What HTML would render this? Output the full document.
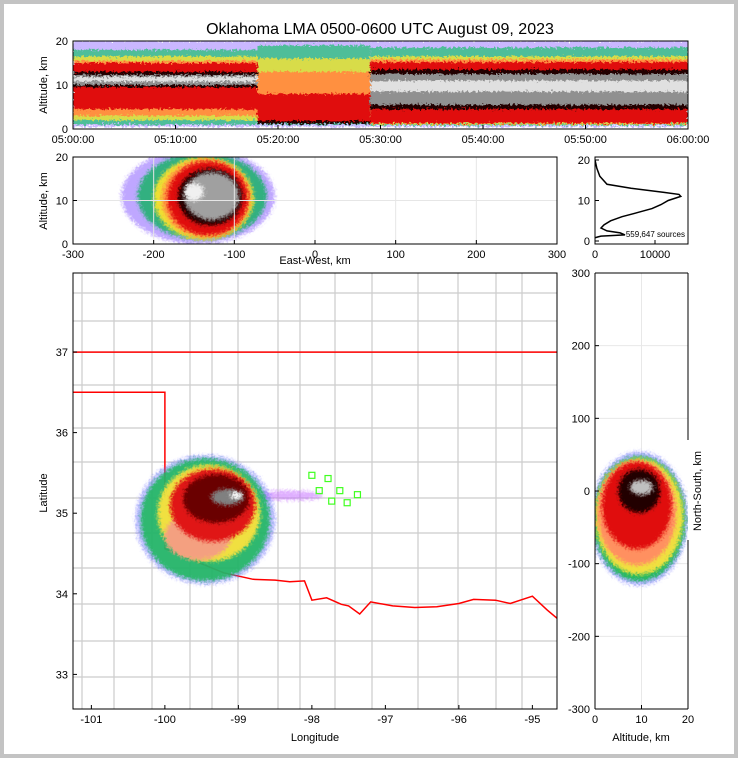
<!DOCTYPE html>
<html><head><meta charset="utf-8"><style>
html,body{margin:0;padding:0;background:#c3c3c3}
svg{display:block}
text{font-family:"Liberation Sans","DejaVu Sans",sans-serif;fill:#000}
</style></head><body>
<svg id="fig" width="738" height="758" xmlns="http://www.w3.org/2000/svg">
<rect x="4" y="4" width="730" height="750" fill="#fff"/>
<text x="380" y="34" font-size="16" text-anchor="middle">Oklahoma LMA 0500-0600 UTC August 09, 2023</text>
<defs>
<filter id="soft" x="-20%" y="-20%" width="140%" height="140%"><feGaussianBlur stdDeviation="1.5"/></filter>
<filter id="speck" x="-5%" y="-5%" width="110%" height="110%">
<feTurbulence type="fractalNoise" baseFrequency="0.45" numOctaves="2" seed="3" result="n"/>
<feDisplacementMap in="SourceGraphic" in2="n" scale="7" xChannelSelector="R" yChannelSelector="G"/>
</filter>
<clipPath id="cTop"><rect x="73" y="41" width="615" height="88"/></clipPath>
<clipPath id="cSide"><rect x="73" y="157" width="484" height="87"/></clipPath>
<clipPath id="cMap"><rect x="73" y="273" width="484" height="436"/></clipPath>
<clipPath id="cRight"><rect x="595" y="273" width="93" height="436"/></clipPath>
<clipPath id="cHist"><rect x="595" y="157" width="93" height="87"/></clipPath>
</defs>
<g clip-path="url(#cTop)"><g id="g-top" filter="url(#speck)"></g></g>
<g clip-path="url(#cSide)"><g id="g-side" filter="url(#speck)"></g></g>
<g id="g-hist" clip-path="url(#cHist)"></g>
<g clip-path="url(#cMap)"><g id="g-map"></g><g id="g-blob" filter="url(#speck)"></g><g id="g-sta"></g></g>
<g clip-path="url(#cRight)"><g id="g-rgrid"></g><g id="g-right" filter="url(#speck)"></g></g>
<g id="g-axes"></g>
</svg>
<script>
// ---------- data ----------
const timeTicks = ["05:00:00","05:10:00","05:20:00","05:30:00","05:40:00","05:50:00","06:00:00"];
const altTicks = [0,10,20];
const ewTicks = [-300,-200,-100,0,100,200,300];
const lonTicks = [-101,-100,-99,-98,-97,-96,-95];
const latTicks = [33,34,35,36,37];
const nsTicks = [300,200,100,0,-100,-200,-300];
const rightAltTicks = [0,10,20];
const histTicks = [0,10000];
// time-height segments (minutes) and band layers
const segStart = [0, 18, 29];
const segEnd = [18, 29, 60];
const bandColors = ["#8a60ff","#30c080","#e8e040","#ff9040","#e01010","#200000","#909090","#e0e0e0"];
const bandOpac = [0.45,0.8,0.9,1,1,1,1,1];
const bandLowSeg0 = [0.5, 1.0, 2.0, 3.0, 4.5, 9.5, 10.0, 10.8];
const bandHighSeg0 = [20, 18.0, 16.5, 15.5, 15.0, 13.0, 12.3, 11.8];
const bandLowSeg1 = [0.5, 1.0, 1.5, 2.0, 1.5, 1.2, 13, 13];
const bandHighSeg1 = [20, 19, 16, 13, 8, 1.8, 13, 13];
const bandLowSeg2 = [0.5, 0.8, 1.0, 1.2, 1.3, 4.5, 5.5, 8.5];
const bandHighSeg2 = [20, 18.5, 16.5, 15.8, 15.2, 13.5, 12.5, 11.0];
// side view (east-west km, altitude km) layers
const sideX = [-145, -140, -138, -135, -133, -130, -128, -150];
const sideAlt = [11, 11, 10.5, 10.5, 10.5, 10.8, 11, 12];
const sideRx = [95, 80, 62, 55, 50, 40, 34, 12];
const sideRy = [11, 10, 9.5, 9, 8.5, 6.5, 5.5, 2];
const sideColors = ["#8050ff","#30b080","#f0e030","#ff9040","#e01010","#200000","#a0a0a0","#f0f0f0"];
// altitude histogram
const histAlt = [0.8,1.0,1.2,1.5,2.0,2.5,3.2,4,5,6,7,8,9,10,11,11.5,12,13,14,16,18,20];
const histCount = [0,500,1000,5000,4200,2000,1000,1500,2600,4500,7000,9500,11000,12200,14300,14000,11500,6000,2000,800,300,0];
// map blob layers (lon, lat)
const blobLon = [-98.3,-99.45,-99.45,-99.4,-99.55,-99.35,-99.3,-99.15,-99.03];
const blobLat = [35.22,34.92,34.92,35.0,34.72,35.1,35.18,35.2,35.22];
const blobRx = [0.45,0.95,0.88,0.7,0.45,0.58,0.45,0.22,0.08];
const blobRy = [0.06,0.8,0.76,0.6,0.3,0.45,0.3,0.1,0.04];
const blobColors = ["#c060ff","#6060ff","#20b860","#f0e040","#f4a080","#e01818","#6a0606","#808080","#ffffff"];
const blobOpac = [0.5,0.45,0.9,1,1,1,1,1,1];
// stations
const staLon = [-98.0,-97.78,-97.9,-97.73,-97.52,-97.38,-97.62];
const staLat = [35.47,35.43,35.28,35.15,35.13,35.23,35.28];
// right panel (altitude km, north-south km)
const nsAlt = [9.5,9.5,9.5,9.0,9.0,9.5,10];
const nsY = [-38,-38,-35,-30,-20,0,5];
const nsRx = [10.5,10,9.5,8.5,7.5,4.5,2.5];
const nsRy = [92,86,80,72,60,30,10];
const nsColors = ["#6060ff","#20b860","#f0e040","#ff9060","#e01010","#200000","#c0c0c0"];
// state border
const borderLon = [-101.25,-94.63,-94.63];
const borderLat = [36.998,36.998,36.5];
const panLon = [-101.25,-100.0,-100.0,-99.2,-98.8,-98.5,-98.3,-98.1,-98.0,-97.8,-97.6,-97.5,-97.35,-97.2,-96.9,-96.6,-96.3,-96.0,-95.8,-95.5,-95.3,-95.0,-94.8,-94.63];
const panLat = [36.5,36.5,34.56,34.26,34.18,34.17,34.15,34.16,33.92,33.95,33.87,33.85,33.75,33.9,33.85,33.83,33.84,33.88,33.93,33.92,33.88,33.97,33.8,33.67];

// ---------- scales ----------
const NS="http://www.w3.org/2000/svg";
function mk(tag, attrs, parent){const e=document.createElementNS(NS,tag);for(const k in attrs)e.setAttribute(k,attrs[k]);parent.appendChild(e);return e;}
const tx = m => 73 + m/60*615;
const ty = a => 129 - a/20*88;
const sx = v => 73 + (v+300)/600*484;
const sy = a => 244 - a/20*87;
const hx = c => 595 + c/15500*93;
const hy = a => 241 - a/20*81;
const mx = lon => 73 + (lon+101.25)*73.5;
const my = lat => 352 - (lat-37)*80.6;
const rx = a => 595 + a/20*93;
const ry = n => 491 - n/300*218;

const gTop=document.getElementById('g-top'), gSide=document.getElementById('g-side'), gHist=document.getElementById('g-hist'),
gMap=document.getElementById('g-map'), gBlob=document.getElementById('g-blob'), gSta=document.getElementById('g-sta'),
gRight=document.getElementById('g-right'), gRg=document.getElementById('g-rgrid'), gAx=document.getElementById('g-axes');

// top panel
const lows=[bandLowSeg0,bandLowSeg1,bandLowSeg2], highs=[bandHighSeg0,bandHighSeg1,bandHighSeg2];
for(let s=0;s<segStart.length;s++){
  for(let b=0;b<bandColors.length;b++){
    const lo=lows[s][b], hi=highs[s][b]; if(hi<=lo) continue;
    const r=mk('rect',{x:tx(segStart[s]),y:ty(hi),width:tx(segEnd[s])-tx(segStart[s]),height:ty(lo)-ty(hi),fill:bandColors[b],'fill-opacity':bandOpac[b]},gTop);
    
    
  }
}
// side view grid
[-200,-100,0,100,200].forEach(v=>mk('line',{x1:sx(v),y1:157,x2:sx(v),y2:244,stroke:'#e6e6e6'},gAx));
mk('line',{x1:73,y1:sy(10),x2:557,y2:sy(10),stroke:'#e6e6e6'},gAx);
for(let i=0;i<sideX.length;i++){
  const e=mk('ellipse',{cx:sx(sideX[i]),cy:sy(sideAlt[i]),rx:sideRx[i]/600*484,ry:sideRy[i]/20*87,fill:sideColors[i],'fill-opacity':i==0?0.5:1,filter:'url(#soft)'},gSide);
  
  
}
// histogram
let hp=histAlt.map((a,i)=>(i?'L':'M')+hx(histCount[i]).toFixed(1)+','+hy(a).toFixed(1)).join('');
const hl=mk('path',{d:hp,fill:'none',stroke:'#000','stroke-width':1.5},gHist);



// map county lines (approximate)
const cg=mk('g',{stroke:'#cccccc','stroke-width':1.2,fill:'none'},gMap);


[293,321,352,385,428,462,498,533,568,604,641,677].forEach(y=>{mk('line',{x1:73,y1:y,x2:557,y2:y},cg);});
[82,114,152,190,212,238,278,300,335,372,418,458,496,522].forEach(x=>{mk('line',{x1:x,y1:273,x2:x,y2:709},cg);});
// borders
const bp=borderLon.map((l,i)=>(i?'L':'M')+mx(l)+','+my(borderLat[i])).join('');
const b1=mk('path',{d:bp,fill:'none',stroke:'#f00','stroke-width':1.5},gMap);


const pp=panLon.map((l,i)=>(i?'L':'M')+mx(l).toFixed(1)+','+my(panLat[i]).toFixed(1)).join('');
const b2=mk('path',{d:pp,fill:'none',stroke:'#f00','stroke-width':1.5},gMap);


// blob
for(let i=0;i<blobLon.length;i++){
  const e=mk('ellipse',{cx:mx(blobLon[i]),cy:my(blobLat[i]),rx:blobRx[i]*73.5,ry:blobRy[i]*80.6,fill:blobColors[i],'fill-opacity':blobOpac[i],filter:'url(#soft)'},gBlob);
  
  
}
for(let i=0;i<staLon.length;i++){
  const s=mk('rect',{x:mx(staLon[i])-3,y:my(staLat[i])-3,width:6,height:6,fill:'none',stroke:'#40ff20','stroke-width':1.2},gSta);
  
  
}
// right panel grid
[100,0,-100,-200,200].forEach(n=>{mk('line',{x1:595,y1:ry(n),x2:688,y2:ry(n),stroke:'#e8e8e8'},gRg);});
mk('line',{x1:rx(10),y1:273,x2:rx(10),y2:709,stroke:'#e8e8e8'},gRg);
for(let i=0;i<nsAlt.length;i++){
  const e=mk('ellipse',{cx:rx(nsAlt[i]),cy:ry(nsY[i]),rx:nsRx[i]/20*93,ry:nsRy[i]/300*218,fill:nsColors[i],'fill-opacity':i==0?0.5:1,filter:'url(#soft)'},gRight);
  
  
}

// ---------- axes ----------
function frame(x,y,w,h,name){const r=mk('rect',{x:x,y:y,width:w,height:h,fill:'none',stroke:'#000','stroke-width':1},gAx);}
function txt(x,y,s,anchor,size,name,rot){const t=mk('text',{x:x,y:y,'font-size':size||11,'text-anchor':anchor||'middle'},gAx);if(rot)t.setAttribute('transform','rotate(-90 '+x+' '+y+')');t.textContent=s;return t;}
function tickX(x,y,len){mk('line',{x1:x,y1:y,x2:x,y2:y-len,stroke:'#000'},gAx);}
function tickY(x,y,len){mk('line',{x1:x,y1:y,x2:x+len,y2:y,stroke:'#000'},gAx);}
frame(73,41,615,88,'time-panel-frame');
timeTicks.forEach((t,i)=>{const x=tx(i*10);tickX(x,129,4);txt(x,143,t,'middle',11,'time-tick-label');});
altTicks.forEach(a=>{tickY(73,ty(a),4);txt(68,ty(a)+4,a,'end',11,'altitude-tick-label');});
txt(47,85,'Altitude, km','middle',11,'top-y-axis-title',true);
frame(73,157,484,87,'side-panel-frame');
ewTicks.forEach(v=>{tickX(sx(v),244,4);txt(sx(v),258,v,'middle',11,'ew-tick-label');});
altTicks.forEach(a=>{tickY(73,sy(a),4);txt(68,sy(a)+4,a,'end',11,'side-altitude-tick-label');});
txt(315,264,'East-West, km','middle',11,'x-axis-title');
txt(47,201,'Altitude, km','middle',11,'side-y-axis-title',true);
frame(595,157,93,87,'histogram-frame');
histTicks.forEach(c=>{tickX(hx(c),244,4);txt(hx(c),258,c,'middle',11,'histogram-tick-label');});
altTicks.forEach(a=>{tickY(595,hy(a),4);txt(590,hy(a)+4,a,'end',11,'histogram-altitude-tick-label');});
txt(685,237,'559,647 sources','end',8,'source-count');
frame(73,273,484,436,'map-frame');
lonTicks.forEach(l=>{tickX(mx(l),709,4);txt(mx(l),723,l,'middle',11,'longitude-tick-label');});
latTicks.forEach(l=>{tickY(73,my(l),4);txt(68,my(l)+4,l,'end',11,'latitude-tick-label');});
txt(315,741,'Longitude','middle',11,'longitude-axis-title');
txt(47,493,'Latitude','middle',11,'latitude-axis-title',true);
mk('line',{x1:595,y1:273,x2:595,y2:709,stroke:'#000'},gAx);
mk('line',{x1:595,y1:709,x2:688,y2:709,stroke:'#000'},gAx);
mk('line',{x1:595,y1:273,x2:688,y2:273,stroke:'#000'},gAx);
mk('line',{x1:688,y1:273,x2:688,y2:440,stroke:'#000'},gAx);
mk('line',{x1:688,y1:540,x2:688,y2:709,stroke:'#000'},gAx);
nsTicks.forEach(n=>{tickY(595,ry(n),4);txt(590,ry(n)+4,n,'end',11,'ns-tick-label');});
rightAltTicks.forEach(a=>{tickX(rx(a),709,4);txt(rx(a),723,a,'middle',11,'right-altitude-tick-label');});
txt(641,741,'Altitude, km','middle',11,'right-x-axis-title');
txt(701,491,'North-South, km','middle',11,'ns-axis-title',true);
</script>
</body></html>
